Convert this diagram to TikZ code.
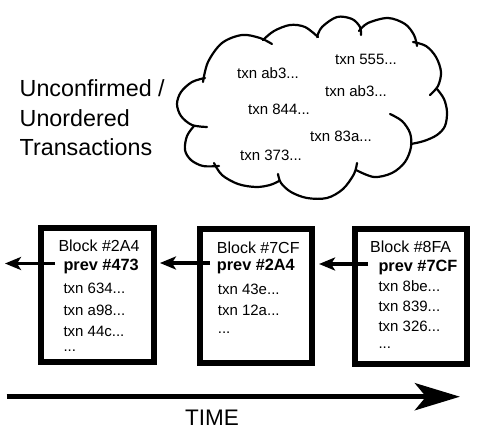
\documentclass[tikz,border=0pt]{standalone}
\usepackage{fontspec}
\setmainfont{Liberation Sans}
\usetikzlibrary{arrows.meta}
\begin{document}
\begin{tikzpicture}[x=1pt,y=-1pt,
  cloudline/.style={line width=2.2pt, line cap=round, line join=round},
  blockbox/.style={draw, line width=6pt, inner sep=0pt, minimum width=112.5pt, minimum height=134.5pt},
  txt/.style={anchor=base west, inner sep=0pt, font=\fontsize{15}{18}\selectfont},
  ttl/.style={anchor=base west, inner sep=0pt, font=\fontsize{16}{19}\selectfont},
  prv/.style={anchor=base west, inner sep=0pt, font=\fontsize{16.3}{19}\selectfont\bfseries},
  big/.style={anchor=base west, inner sep=0pt, font=\fontsize{23.3}{28}\selectfont},
  timelbl/.style={anchor=base west, inner sep=0pt, font=\fontsize{22.5}{27}\selectfont},
  link/.style={line width=3.2pt, -{Stealth[length=16pt,width=13pt,inset=4pt]}},
  timearrow/.style={line width=5.5pt, -{Stealth[length=45pt,width=27pt,inset=11pt]}}
]
\useasboundingbox (0,0) rectangle (483,431);

% cloud
\draw[cloudline] plot[smooth, tension=0.55] coordinates {(205,78) (192,82) (181,92) (177,104) (181,116) (192,125) (207,127)};
\draw[cloudline] plot[smooth, tension=0.55] coordinates {(194,126) (187,136) (185,150) (191,160) (203,166) (219,166)};
\draw[cloudline] plot[smooth, tension=0.55] coordinates {(214,163) (222,175) (238,184) (256,187) (270,185) (279,181)};
\draw[cloudline] plot[smooth, tension=0.55] coordinates {(278,174) (281,183) (291,192) (307,198) (327,198) (343,189) (354,174) (357,163)};
\draw[cloudline] plot[smooth, tension=0.55] coordinates {(390,114) (402,121) (410,133) (411,147) (405,162) (392,173) (374,177) (356,170)};
\draw[cloudline] plot[smooth, tension=0.55] coordinates {(437,89) (444,99) (447,112) (445,126) (437,135) (424,141) (411,144)};
\draw[cloudline] plot[smooth, tension=0.55] coordinates {(413,42) (426,46) (436,57) (441,72) (438,86) (430,95)};
\draw[cloudline] plot[smooth, tension=0.55] coordinates {(359,31) (368,23) (388,18) (405,24) (414,35) (417,46)};
\draw[cloudline] plot[smooth, tension=0.55] coordinates {(317,37) (322,27) (337,17) (352,19) (360,27) (361,35)};
\draw[cloudline] plot[smooth, tension=0.55] coordinates {(263,40) (274,31) (290,25) (305,27) (318,37)};
\draw[cloudline] plot[smooth, tension=0.55] coordinates {(203,82) (208,62) (222,43) (242,35) (260,38) (272,44)};

\node[txt] (c1) at (335,64.5) {txn 555...};
\node[txt] (c2) at (237,78) {txn ab3...};
\node[txt] (c3) at (325,96.5) {txn ab3...};
\node[txt] (c4) at (248,114.5) {txn 844...};
\node[txt] (c5) at (310,141) {txn 83a...};
\node[txt] (c6) at (240,160) {txn 373...};

% label
\node[big] (u1) at (19.5,96.7) {Unconfirmed /};
\node[big] (u2) at (19.5,126) {Unordered};
\node[big] (u3) at (19.5,155) {Transactions};

% blocks
\node[blockbox] (b1) at (97.7,295.2) {};
\node[blockbox] (b2) at (255.8,295.8) {};
\node[blockbox] (b3) at (410.8,296.3) {};

\node[ttl] (h1) at (58.3,251) {Block \#2A4};
\node[prv] (p1) at (63.3,270) {prev \#473};
\node[txt] (t11) at (63.3,293.5) {txn 634...};
\node[txt] (t12) at (63.3,315) {txn a98...};
\node[txt] (t13) at (63.3,336) {txn 44c...};
\node[txt] (t14) at (63.3,351) {...};

\node[ttl] (h2) at (216.7,253) {Block \#7CF};
\node[prv] (p2) at (216.7,270) {prev \#2A4};
\node[txt] (t21) at (217.7,294) {txn 43e...};
\node[txt] (t22) at (217.7,315) {txn 12a...};
\node[txt] (t23) at (217.7,333) {...};

\node[ttl] (h3) at (370,252) {Block \#8FA};
\node[prv] (p3) at (378.3,271.5) {prev \#7CF};
\node[txt] (t31) at (378.3,291.7) {txn 8be...};
\node[txt] (t32) at (378.3,311.7) {txn 839...};
\node[txt] (t33) at (378.3,331.7) {txn 326...};
\node[txt] (t34) at (378.3,348) {...};

% links
\coordinate (a1) at (55,263.5);
\coordinate (a0) at (5,263.5);
\draw[link] (a1) -- (a0);
\coordinate (a2) at (210,263);
\draw[link] (a2) -- ([xshift=3pt]a2 -| b1.east);
\coordinate (a3) at (368,264);
\draw[link] (a3) -- ([xshift=4pt]a3 -| b2.east);

% time
\coordinate (tm0) at (6.7,396.7);
\coordinate (tm1) at (460,396.7);
\draw[timearrow] (tm0) -- (tm1);
\node[timelbl] (time) at (185,425) {TIME};
\end{tikzpicture}
\end{document}
